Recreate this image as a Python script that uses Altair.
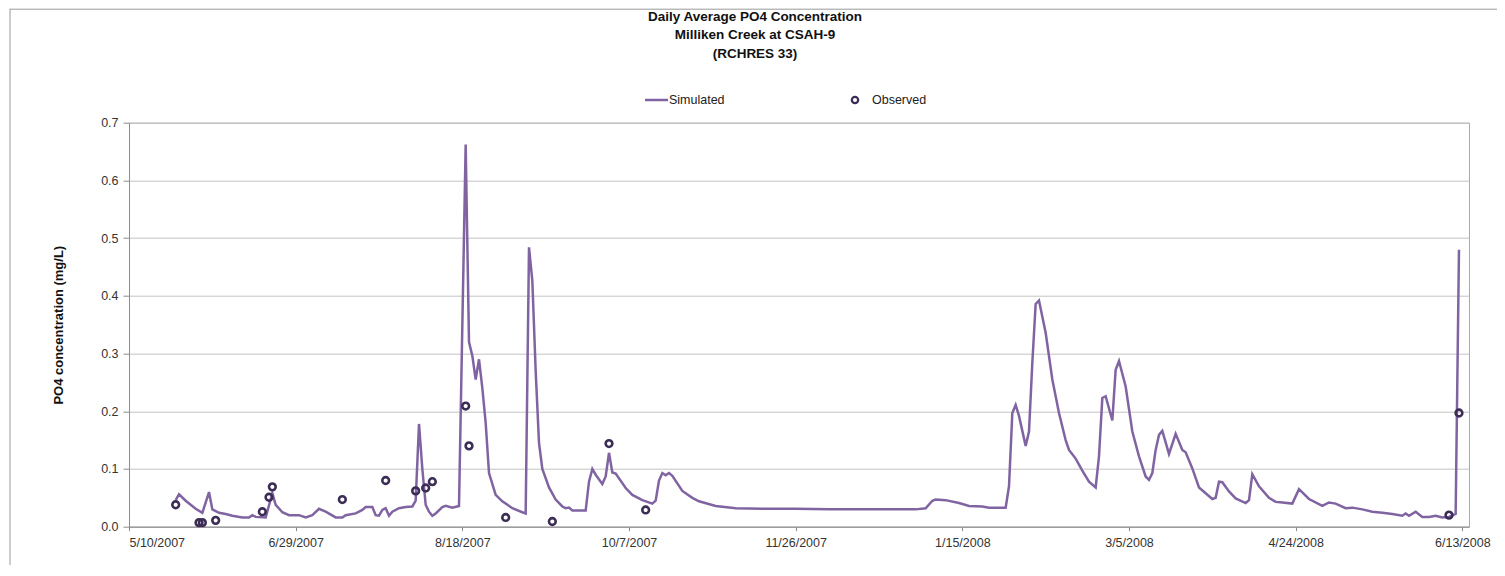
import altair as alt
import pandas as pd

# ---------------- data ----------------
sim_dates = [
    "2007-05-24", "2007-05-25", "2007-05-27", "2007-05-30", "2007-06-01", "2007-06-03",
    "2007-06-04", "2007-06-06", "2007-06-08", "2007-06-10", "2007-06-13", "2007-06-15",
    "2007-06-16", "2007-06-17", "2007-06-20", "2007-06-22", "2007-06-23", "2007-06-25",
    "2007-06-27", "2007-06-30", "2007-07-02", "2007-07-04", "2007-07-06", "2007-07-08",
    "2007-07-11", "2007-07-13", "2007-07-14", "2007-07-17", "2007-07-19", "2007-07-20",
    "2007-07-22", "2007-07-23", "2007-07-24", "2007-07-25", "2007-07-26", "2007-07-27",
    "2007-07-28", "2007-07-30", "2007-08-01", "2007-08-03", "2007-08-04", "2007-08-05",
    "2007-08-06", "2007-08-07", "2007-08-08", "2007-08-09", "2007-08-10", "2007-08-12",
    "2007-08-13", "2007-08-15", "2007-08-17", "2007-08-19", "2007-08-20", "2007-08-21",
    "2007-08-22", "2007-08-23", "2007-08-24", "2007-08-25", "2007-08-26", "2007-08-28",
    "2007-08-30", "2007-09-02", "2007-09-05", "2007-09-06", "2007-09-07", "2007-09-08",
    "2007-09-09", "2007-09-10", "2007-09-11", "2007-09-13", "2007-09-15", "2007-09-17",
    "2007-09-18", "2007-09-19", "2007-09-20", "2007-09-24", "2007-09-25", "2007-09-26",
    "2007-09-27", "2007-09-29", "2007-09-30", "2007-10-01", "2007-10-02", "2007-10-03",
    "2007-10-06", "2007-10-08", "2007-10-11", "2007-10-14", "2007-10-15", "2007-10-16",
    "2007-10-17", "2007-10-18", "2007-10-19", "2007-10-20", "2007-10-23", "2007-10-26",
    "2007-10-28", "2007-11-02", "2007-11-08", "2007-11-16", "2007-11-26", "2007-12-06",
    "2007-12-16", "2007-12-26", "2008-01-01", "2008-01-04", "2008-01-06", "2008-01-07",
    "2008-01-10", "2008-01-14", "2008-01-17", "2008-01-21", "2008-01-23", "2008-01-28",
    "2008-01-29", "2008-01-30", "2008-01-31", "2008-02-01", "2008-02-03", "2008-02-04",
    "2008-02-05", "2008-02-06", "2008-02-07", "2008-02-09", "2008-02-11", "2008-02-13",
    "2008-02-15", "2008-02-16", "2008-02-18", "2008-02-20", "2008-02-22", "2008-02-24",
    "2008-02-25", "2008-02-26", "2008-02-27", "2008-02-29", "2008-03-01", "2008-03-02",
    "2008-03-04", "2008-03-06", "2008-03-08", "2008-03-10", "2008-03-11", "2008-03-12",
    "2008-03-13", "2008-03-14", "2008-03-15", "2008-03-17", "2008-03-19", "2008-03-21",
    "2008-03-22", "2008-03-24", "2008-03-26", "2008-03-28", "2008-03-30", "2008-03-31",
    "2008-04-01", "2008-04-02", "2008-04-04", "2008-04-06", "2008-04-09", "2008-04-10",
    "2008-04-11", "2008-04-13", "2008-04-16", "2008-04-18", "2008-04-20", "2008-04-23",
    "2008-04-25", "2008-04-28", "2008-05-02", "2008-05-04", "2008-05-06", "2008-05-09",
    "2008-05-11", "2008-05-14", "2008-05-17", "2008-05-20", "2008-05-23", "2008-05-26",
    "2008-05-27", "2008-05-28", "2008-05-30", "2008-06-01", "2008-06-03", "2008-06-05",
    "2008-06-07", "2008-06-09", "2008-06-11", "2008-06-12",
]
sim_values = [
    0.046, 0.056, 0.045, 0.031, 0.024, 0.060,
    0.030, 0.024, 0.022, 0.019, 0.016, 0.016,
    0.020, 0.017, 0.016, 0.058, 0.038, 0.025,
    0.020, 0.020, 0.016, 0.020, 0.031, 0.026,
    0.016, 0.016, 0.020, 0.023, 0.029, 0.034,
    0.034, 0.020, 0.019, 0.029, 0.032, 0.019,
    0.026, 0.032, 0.034, 0.035, 0.045, 0.178,
    0.100, 0.038, 0.026, 0.019, 0.023, 0.034,
    0.036, 0.033, 0.036, 0.662, 0.320, 0.296,
    0.255, 0.290, 0.240, 0.180, 0.093, 0.055,
    0.044, 0.032, 0.025, 0.023, 0.484, 0.426,
    0.270, 0.145, 0.100, 0.068, 0.047, 0.035,
    0.032, 0.033, 0.028, 0.028, 0.078, 0.100,
    0.090, 0.074, 0.087, 0.128, 0.094, 0.092,
    0.067, 0.055, 0.046, 0.040, 0.045, 0.080,
    0.093, 0.089, 0.093, 0.088, 0.062, 0.050,
    0.044, 0.036, 0.032, 0.031, 0.031, 0.030,
    0.030, 0.030, 0.030, 0.032, 0.045, 0.047,
    0.046, 0.041, 0.036, 0.035, 0.033, 0.033,
    0.070, 0.197, 0.211, 0.192, 0.140, 0.165,
    0.284, 0.386, 0.392, 0.336, 0.255, 0.197,
    0.150, 0.133, 0.118, 0.097, 0.078, 0.068,
    0.122, 0.223, 0.226, 0.184, 0.272, 0.287,
    0.243, 0.165, 0.122, 0.087, 0.081, 0.093,
    0.133, 0.159, 0.166, 0.126, 0.161, 0.133,
    0.129, 0.101, 0.068, 0.058, 0.048, 0.050,
    0.078, 0.077, 0.061, 0.049, 0.041, 0.046,
    0.091, 0.070, 0.050, 0.043, 0.042, 0.040,
    0.065, 0.048, 0.036, 0.042, 0.040, 0.032,
    0.033, 0.030, 0.026, 0.024, 0.022, 0.019,
    0.023, 0.019, 0.026, 0.017, 0.017, 0.019,
    0.016, 0.017, 0.022, 0.480,
]

obs_dates = [
    "2007-05-24", "2007-05-31", "2007-06-01", "2007-06-05", "2007-06-19", "2007-06-21",
    "2007-06-22", "2007-07-13", "2007-07-26", "2007-08-04", "2007-08-07", "2007-08-09",
    "2007-08-19", "2007-08-20", "2007-08-31", "2007-09-14", "2007-10-01", "2007-10-12",
    "2008-06-09", "2008-06-12",
]
obs_values = [
    0.038, 0.007, 0.007, 0.011, 0.026, 0.051,
    0.069, 0.047, 0.080, 0.062, 0.067, 0.078,
    0.209, 0.140, 0.016, 0.009, 0.144, 0.029,
    0.020, 0.197,
]

tick_dates = ["2007-05-10", "2007-06-29", "2007-08-18", "2007-10-07", "2007-11-26",
              "2008-01-15", "2008-03-05", "2008-04-24", "2008-06-13"]
x_domain = ["2007-05-10", "2008-06-15"]
y_ticks = [0.0, 0.1, 0.2, 0.3, 0.4, 0.5, 0.6, 0.7]

title_lines = ["Daily Average PO4 Concentration", "Milliken Creek at CSAH-9", "(RCHRES 33)"]
series_names = ["Simulated", "Observed"]
y_title = "PO4 concentration (mg/L)"

# ---------------- styling ----------------
FONT = "Liberation Sans"
LINE_COLOR = "#8064A2"
OBS_COLOR = "#3b2d55"
W, H = 1340, 404
PAD_L, PAD_T = 121, 114.7


def to_dt(s):
    t = pd.Timestamp(s)
    return alt.DateTime(year=t.year, month=t.month, date=t.day)


sim_df = pd.DataFrame({"date": pd.to_datetime(sim_dates), "value": sim_values})
obs_df = pd.DataFrame({"date": pd.to_datetime(obs_dates), "value": obs_values})
one = pd.DataFrame({"k": [0]})

x_enc = alt.X(
    "date:T",
    scale=alt.Scale(domain=[to_dt(d) for d in x_domain]),
    axis=alt.Axis(
        values=[to_dt(d) for d in tick_dates],
        format="%-m/%-d/%Y",
        title=None,
        grid=False,
        tickSize=4,
        labelPadding=6,
        labelAngle=0,
    ),
)
y_enc = alt.Y(
    "value:Q",
    scale=alt.Scale(domain=[0, 0.7], nice=False, zero=True),
    axis=alt.Axis(
        values=y_ticks,
        format=".1f",
        title=y_title,
        titleFontWeight="bold",
        titleFontSize=13,
        titleFont=FONT,
        titleColor="#111",
        titleX=-71,
        titleY=H / 2,
        titleAngle=270,
        titleAlign="center",
        titleBaseline="middle",
        grid=True,
        gridColor="#c4c4c4",
        tickSize=6,
        labelPadding=5,
    ),
)

line = alt.Chart(sim_df).mark_line(color=LINE_COLOR, strokeWidth=2.5).encode(x=x_enc, y=y_enc)
points = alt.Chart(obs_df).mark_point(
    shape="circle", filled=False, size=45, strokeWidth=2.6, color=OBS_COLOR, opacity=1
).encode(x="date:T", y="value:Q")

# chart-area border (left and top edges)
border_left = alt.Chart(one).mark_rule(color="#9a9a9a", strokeWidth=1).encode(
    x=alt.value(-119), y=alt.value(-114), y2=alt.value(H + 40)
)
border_top = alt.Chart(one).mark_rule(color="#9a9a9a", strokeWidth=1).encode(
    x=alt.value(-119), x2=alt.value(W + 30), y=alt.value(-113.5)
)

title = alt.Chart(one).mark_text(
    align="center", baseline="middle", font=FONT, fontSize=13.5, fontWeight="bold",
    color="#111", lineHeight=18.5, lineBreak="\n"
).encode(x=alt.value(626), y=alt.value(-106), text=alt.value("\n".join(title_lines)))

leg_line = alt.Chart(one).mark_rule(color=LINE_COLOR, strokeWidth=2.5).encode(
    x=alt.value(516), x2=alt.value(539), y=alt.value(-22.7)
)
leg_sim_text = alt.Chart(one).mark_text(
    align="left", baseline="middle", font=FONT, fontSize=12.5, color="#222"
).encode(x=alt.value(540), y=alt.value(-22.7), text=alt.value(series_names[0]))
leg_pt = alt.Chart(one).mark_point(
    shape="circle", filled=False, size=40, strokeWidth=2.2, color=OBS_COLOR, opacity=1
).encode(x=alt.value(726), y=alt.value(-22.7))
leg_obs_text = alt.Chart(one).mark_text(
    align="left", baseline="middle", font=FONT, fontSize=12.5, color="#222"
).encode(x=alt.value(743), y=alt.value(-22.7), text=alt.value(series_names[1]))

chart = alt.layer(
    border_left, border_top, title, leg_line, leg_sim_text, leg_pt, leg_obs_text, line, points
).properties(
    width=W,
    height=H,
    autosize=alt.AutoSizeParams(type="none"),
    padding={"left": PAD_L, "top": PAD_T, "right": 28, "bottom": 38},
).configure_view(
    stroke="#a8a8a8", strokeWidth=1
).configure_axis(
    labelFont=FONT,
    labelFontSize=12.5,
    labelColor="#333",
    domainColor="#8c8c8c",
    tickColor="#8c8c8c",
)

chart.save("out.html", embed_options={"renderer": "svg", "actions": False})
